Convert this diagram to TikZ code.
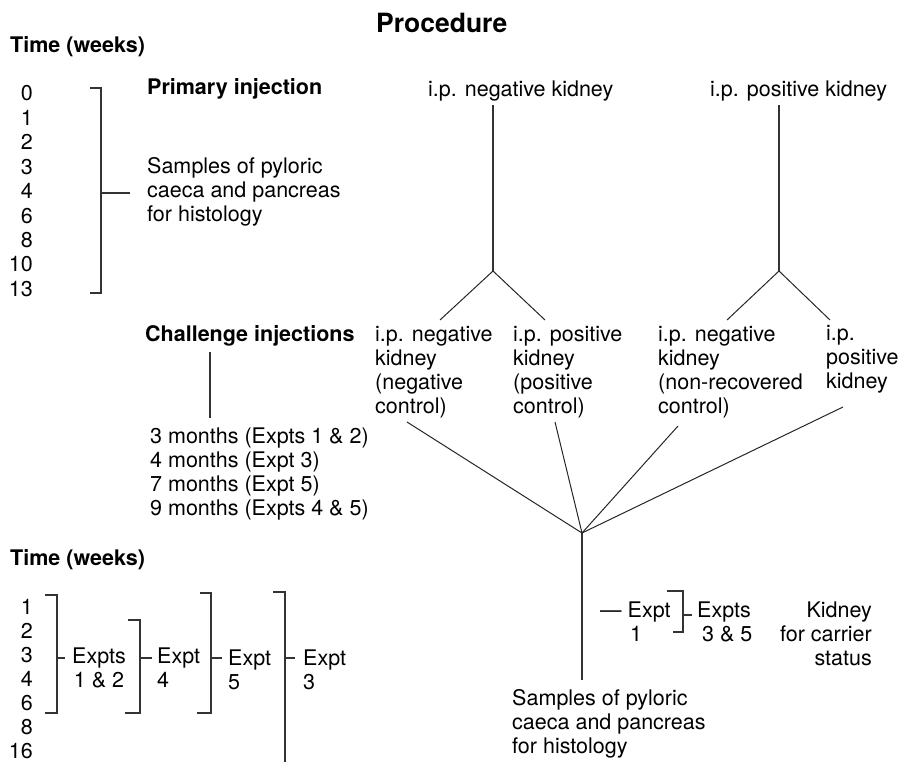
\documentclass[tikz,border=0pt]{standalone}
\usepackage{fontspec}
\setmainfont{TeX Gyre Heros}
\usepackage{tikz}
\usetikzlibrary{positioning}
\tikzstyle{txt} = [inner sep=0pt, anchor=base west, align=left, font=\fontsize{21.5}{24}\selectfont]
\tikzstyle{heading} = [txt, font=\fontsize{21.5}{24}\selectfont\bfseries]
\tikzstyle{week} = [inner sep=0pt, anchor=base east, font=\fontsize{21.5}{24}\selectfont]
\tikzstyle{stem} = [line width=1.2pt, color=black!80]
\tikzstyle{spoke} = [line width=1pt, color=black!85]

\begin{document}
\begin{tikzpicture}[x=1pt, y=-1pt]
        \useasboundingbox (0,0) rectangle (901,762);
        % Title
        \node (proc) [heading, font=\fontsize{26.5}{30}\selectfont\bfseries] at (376,33) {Procedure};

        % Primary injection and weekly sampling (multi-line nodes sit on their last line)
        \node (time1) [heading] at (10,53) {Time (weeks)};
        \foreach \w [count=\i from 0] in {0,1,2,3,4,6,8,10,13}
            \node (wa\i) [week] at (33,{101+24.4*\i}) {\w};
        \node (prim) [heading] at (147,95) {Primary injection};
        \node (samp1) [txt] at (147,221) {Samples of pyloric\\caeca and pancreas\\for histology};
        \draw [stem] (90,88) -| (101,293) -- (90,293);
        \draw [stem] (101,193) -- (130,193);

        % Donor kidneys
        \node (negk) [txt] at (428,97) {i.p. negative kidney};
        \node (posk) [txt] at (710,97) {i.p. positive kidney};
        \coordinate (negfork) at (493,271);
        \coordinate (posfork) at (779,271);
        \draw [stem, shorten <=3pt] (negfork |- negk.south) -- (negfork);
        \draw [stem, shorten <=3pt] (posfork |- posk.south) -- (posfork);

        % Challenge injections
        \node (chal) [heading] at (145,341) {Challenge injections};
        \node (cneg) [txt] at (375,413) {i.p. negative\\kidney\\(negative\\control)};
        \node (cpos) [txt] at (513,413) {i.p. positive\\kidney\\(positive\\control)};
        \node (cnrc) [txt] at (658,413) {i.p. negative\\kidney\\(non-recovered\\control)};
        \node (cre) [txt] at (826,388) {i.p.\\positive\\kidney};
        \node (mon) [txt] at (150,515) {3 months (Expts 1 \& 2)\\4 months (Expt 3)\\7 months (Expt 5)\\9 months (Expts 4 \& 5)};
        \coordinate (chalstem) at (210,0);
        \draw [stem, shorten <=6pt, shorten >=9pt] (chal.south -| chalstem) -- (mon.north -| chalstem);

        \coordinate (cnegin) at (440,320);
        \coordinate (cposin) at (545,320);
        \coordinate (cnrcin) at (727,320);
        \coordinate (crein) at (830,320);
        \draw [spoke] (negfork) -- (cnegin);
        \draw [spoke] (negfork) -- (cposin);
        \draw [spoke] (posfork) -- (cnrcin);
        \draw [spoke] (posfork) -- (crein);

        % Merging to samples
        \coordinate (merge) at (582,533);
        \coordinate (cnegout) at (407,422);
        \coordinate (cposout) at (555,422);
        \coordinate (cnrcout) at (678,426);
        \coordinate (creout) at (843,407);
        \draw [spoke] (cnegout) -- (merge);
        \draw [spoke] (cposout) -- (merge);
        \draw [spoke] (cnrcout) -- (merge);
        \draw [spoke] (creout) -- (merge);

        \node (samp2) [txt] at (512,753) {Samples of pyloric\\caeca and pancreas\\for histology};
        \draw [stem, shorten >=9pt] (merge) -- (merge |- samp2.north);

        % Kidney checks
        \node (e1) [txt] at (600,641) {--- Expt\\\hspace*{30pt}1};
        \draw [stem] (667,591) -| (683,632) -- (673,632);
        \draw [stem] (683,615) -- (692,615);
        \node (e35) [txt] at (697,641) {Expts\\\hspace*{5pt}3 \& 5};
        \node (kid) [txt, align=right, anchor=base east] at (872,665) {Kidney\\for carrier\\status};

        % Challenge time scale
        \node (time2) [heading] at (10,565) {Time (weeks)};
        \foreach \w [count=\i from 0] in {1,2,3,4,6,8,16}
            \node (wb\i) [week] at (33,{614+24*\i}) {\w};
        \draw [stem] (45,595) -| (57,713) -- (45,713);
        \draw [stem] (57,658) -- (65,658);
        \node (ex12) [txt, align=center] at (72,687) {Expts\\1 \& 2};
        \draw [stem] (128,620) -| (140,713) -- (125,713);
        \draw [stem] (140,658) -- (152,658);
        \node (ex4) [txt] at (157,687) {Expt\\4};
        \draw [stem] (200,593) -| (211,713) -- (197,713);
        \draw [stem] (211,658) -- (222,658);
        \node (ex5) [txt] at (228,689) {Expt\\5};
        \draw [stem] (273,592) -| (285,762);
        \draw [stem] (285,658) -- (295,658);
        \node (ex3) [txt] at (303,689) {Expt\\3};
    \end{tikzpicture}
\end{document}
